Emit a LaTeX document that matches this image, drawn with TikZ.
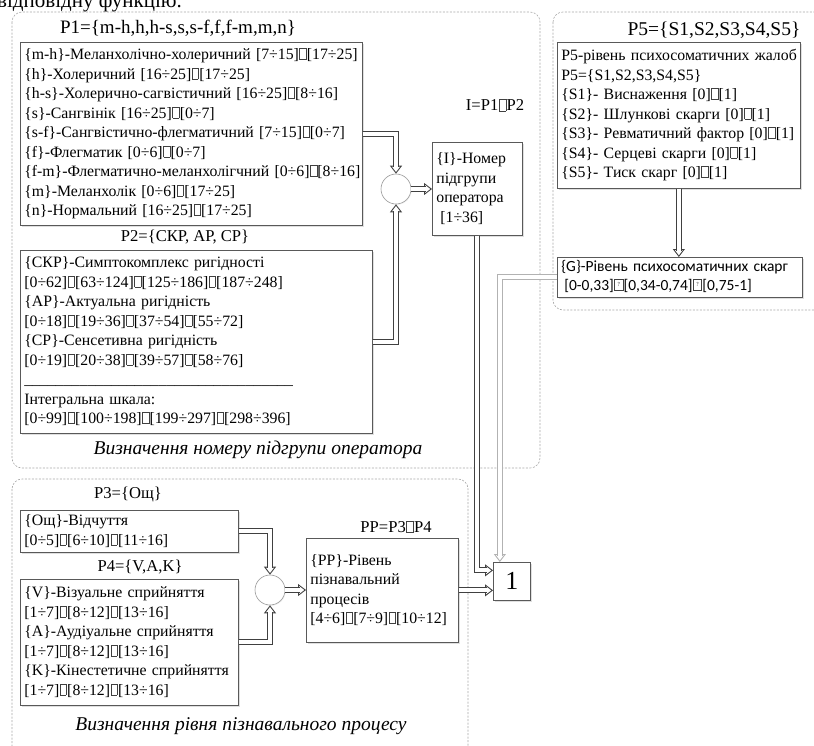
\documentclass[tikz,border=0pt]{standalone}
\usepackage{fontspec}
\setmainfont{Liberation Serif}
\newfontfamily\calib{Carlito}
\usetikzlibrary{arrows.meta,shadows,calc}
\newcommand\qbox{\kern0.5pt{\color{black!75}\hbox{\vrule width0.45pt\vbox to 0.72em{\hrule width0.38em height0.45pt\vfil\hrule width0.38em height0.45pt}\vrule width0.45pt}}\kern0.5pt}
\newcommand\qmbox{\kern0.5pt{\color{black!75}\hbox{\vrule width0.45pt\vbox to 0.75em{\hrule width0.5em height0.45pt\vss\hbox to 0.5em{\hss\fontsize{6}{6}\selectfont ?\hss}\vss\hrule width0.5em height0.45pt}\vrule width0.45pt}}\kern0.5pt}
\newcommand\rows[1]{\begin{tabular}{@{}l@{}}#1\end{tabular}}
\newcommand\dconn[2][black!75]{%
  \draw[draw=#1, line width=0.9pt, -{Triangle[length=8pt, width=12pt, fill=white]}] #2;
  \draw[draw=#1, line width=0.9pt, double=white, double distance=4pt, shorten >=6.5pt] #2;}
\begin{document}
\begin{tikzpicture}[x=1pt,y=-1pt,
  region/.style={draw=black!35, dash pattern=on 2pt off 1.5pt, rounded corners=10pt, line width=0.6pt},
  box/.style={draw=black!65, line width=0.7pt, fill=white, anchor=north west, inner xsep=4pt, inner ysep=0pt,
     align=left, font=\fontsize{15.8}{19.5}\selectfont,
     drop shadow={shadow xshift=1.2pt, shadow yshift=-1.2pt, opacity=0.25}},
  circ/.style={circle, draw=black!40, line width=0.6pt, minimum size=30pt, inner sep=0pt, fill=white,
     drop shadow={shadow xshift=0.8pt, shadow yshift=-0.8pt, opacity=0.12}},
  lbl/.style={font=\fontsize{16.6}{20}\selectfont, inner sep=0pt},
  captxt/.style={font=\fontsize{19.5}{23}\selectfont\itshape, inner sep=0pt}
]
\useasboundingbox (0,0) rectangle (814,745);

% top page text (cut)
\node[anchor=base west, inner sep=0pt, font=\fontsize{21}{25}\selectfont] (toptext) at (-3,7) {відповідну функцію.};

% regions
\draw[region] (12,12) rectangle (540,468);
\draw[region] (553,12) rectangle (830,310);
\draw[region] (12,479) rectangle (468,770);

% labels
\node[lbl, font=\fontsize{19}{23}\selectfont] (p1l) at (178,28) {P1=\{m-h,h,h-s,s,s-f,f,f-m,m,n\}};
\node[lbl] (p2l) at (185,237) {P2=\{СКР, АР, СР\}};
\node[lbl] (il) at (495,105) {I=P1\qbox P2};
\node[lbl, font=\fontsize{19.5}{23}\selectfont] (p5l) at (714,30) {P5=\{S1,S2,S3,S4,S5\}};
\node[lbl] (ppl) at (396,527) {PP=P3\qbox P4};
\node[lbl] (p3l) at (128,494) {P3=\{Ощ\}};
\node[lbl] (p4l) at (140,567) {P4=\{V,A,K\}};
\node[captxt] (cap1) at (258,450) {Визначення номеру підгрупи оператора};
\node[captxt] (cap2) at (241,726) {Визначення рівня пізнавального процесу};

% boxes
\node[box, text width=334pt, minimum height=183pt] (p1) at (20,42) {\rows{%
\{m-h\}-Меланхолічно-холеричний [7÷15]\qbox[17÷25]\\
\{h\}-Холеричний [16÷25]\qbox[17÷25]\\
\{h-s\}-Холерично-сагвістичний [16÷25]\qbox[8÷16]\\
\{s\}-Сангвінік [16÷25]\qbox[0÷7]\\
\{s-f\}-Сангвістично-флегматичний [7÷15]\qbox[0÷7]\\
\{f\}-Флегматик [0÷6]\qbox[0÷7]\\
\{f-m\}-Флегматично-меланхолігчний [0÷6]\qbox[8÷16]\\
\{m\}-Меланхолік [0÷6]\qbox[17÷25]\\
\{n\}-Нормальний [16÷25]\qbox[17÷25]}};

\node[box, text width=344pt, minimum height=183pt] (p2) at (20,250) {\rows{%
\{СКР\}-Симптокомплекс ригідності\\{}%
[0÷62]\qbox[63÷124]\qbox[125÷186]\qbox[187÷248]\\
\{АР\}-Актуальна ригідність\\{}%
[0÷18]\qbox[19÷36]\qbox[37÷54]\qbox[55÷72]\\
\{СР\}-Сенсетивна ригідність\\{}%
[0÷19]\qbox[20÷38]\qbox[39÷57]\qbox[58÷76]\\
\_\_\_\_\_\_\_\_\_\_\_\_\_\_\_\_\_\_\_\_\_\_\_\_\_\_\_\_\_\_\_\_\_\_\\
Інтегральна шкала:\\{}%
[0÷99]\qbox[100÷198]\qbox[199÷297]\qbox[298÷396]}};

\node[box, text width=82pt, minimum height=93pt] (ibox) at (432,142) {\rows{%
\{I\}-Номер\\ підгрупи\\ оператора\\ \hspace*{4pt}[1÷36]}};

\node[box, text width=235pt, minimum height=146pt] (p5) at (557,42) {\rows{%
P5-рівень психосоматичних жалоб\\
P5=\{S1,S2,S3,S4,S5\}\\
\{S1\}- Виснаження [0]\qbox[1]\\
\{S2\}- Шлункові скарги [0]\qbox[1]\\
\{S3\}- Ревматичний фактор [0]\qbox[1]\\
\{S4\}- Серцеві скарги [0]\qbox[1]\\
\{S5\}- Тиск скарг [0]\qbox[1]}};

\node[box, text width=237pt, minimum height=40pt, font=\calib\fontsize{15.5}{19}\selectfont] (g) at (557,257) {\rows{%
\{G\}-Рівень психосоматичних скарг\\\hspace*{3pt}[0-0,33]\qmbox[0,34-0,74]\qmbox[0,75-1]}};

\node[box, text width=29pt, minimum height=38pt, align=center, font=\fontsize{26}{28}\selectfont] (one) at (493,562) {1};

\node[box, text width=144pt, minimum height=104pt] (pp) at (306,538) {\rows{%
\{PP\}-Рівень\\ пізнавальний\\ процесів\\{}[4÷6]\qbox[7÷9]\qbox[10÷12]}};

\node[box, text width=210pt, minimum height=42pt] (p3) at (20,510) {\rows{%
\{Ощ\}-Відчуття\\{}[0÷5]\qbox[6÷10]\qbox[11÷16]}};

\node[box, text width=210pt, minimum height=126pt] (p4) at (20,579) {\rows{%
\{V\}-Візуальне сприйняття\\{}[1÷7]\qbox[8÷12]\qbox[13÷16]\\
\{A\}-Аудіуальне сприйняття\\{}[1÷7]\qbox[8÷12]\qbox[13÷16]\\
\{K\}-Кінестетичне сприйняття\\{}[1÷7]\qbox[8÷12]\qbox[13÷16]}};

% merge circles
\node[circ] (c1) at (396,189) {};
\node[circ] (c2) at (270,590) {};

% connectors
\dconn{(p1.east) -| (c1.north)}
\dconn{(p2.east) -| (c1.south)}
\dconn{(c1.east) -- (c1.east -| ibox.west)}
\dconn{(ibox.south) |- ([yshift=11pt]one.west)}
\dconn{(pp.east) -- (pp.east -| one.west)}
\dconn[black!30]{(g.west) -| ([xshift=-12pt]one.north)}
\dconn{(p5.south) -- (p5.south |- g.north)}
\dconn{(p3.east) -| (c2.north)}
\dconn{(p4.east) -| (c2.south)}
\dconn{(c2.east) -- (c2.east -| pp.west)}
\end{tikzpicture}
\end{document}
